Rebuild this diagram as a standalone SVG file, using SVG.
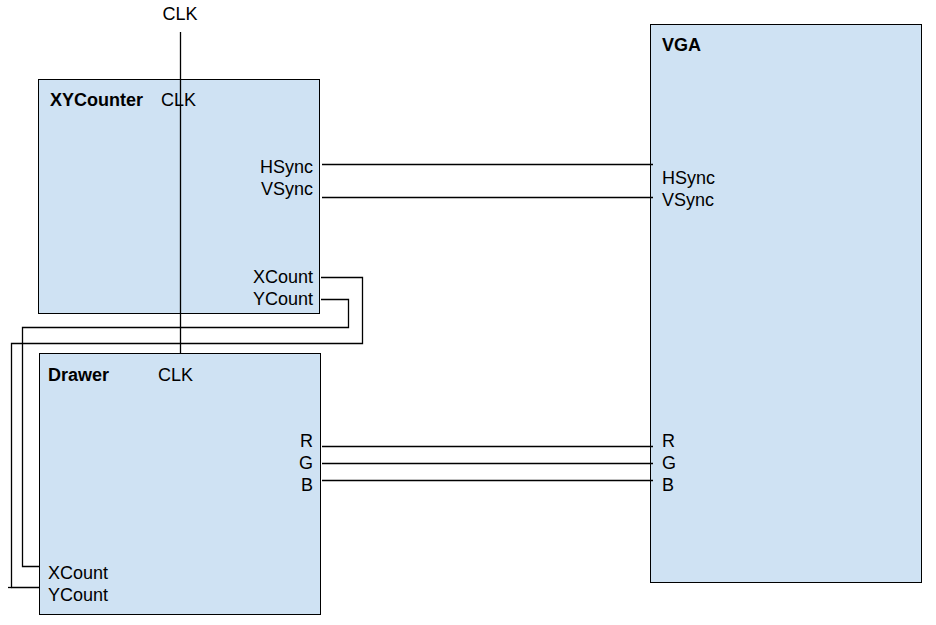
<svg xmlns="http://www.w3.org/2000/svg" width="936" height="625" viewBox="0 0 936 625">
<style>
.box{fill:#cfe2f3;stroke:#000;stroke-width:1}
text{font-family:"Liberation Sans",Arial,sans-serif;font-size:18px;fill:#000}
.b{font-weight:bold}
.r{text-anchor:end}
.w{fill:none;stroke:#000;stroke-width:1.3}
</style>
<rect width="936" height="625" fill="#fff"/>
<g id="XYCounter">
<rect class="box" x="38.5" y="79.5" width="281" height="234"/>
<text class="b" x="50" y="106">XYCounter</text>
<text x="161" y="106">CLK</text>
<text class="r" x="313" y="173">HSync</text>
<text class="r" x="313" y="195">VSync</text>
<text class="r" x="313" y="283">XCount</text>
<text class="r" x="313" y="305">YCount</text>
</g>
<g id="Drawer">
<rect class="box" x="39.5" y="353.5" width="281" height="261"/>
<text class="b" x="48" y="381">Drawer</text>
<text x="158" y="381">CLK</text>
<text class="r" x="313" y="447">R</text>
<text class="r" x="313" y="469">G</text>
<text class="r" x="313" y="491">B</text>
<text x="48" y="579">XCount</text>
<text x="48" y="601">YCount</text>
</g>
<g id="VGA">
<rect class="box" x="650.5" y="24.5" width="271" height="558"/>
<text class="b" x="662" y="51">VGA</text>
<text x="662" y="184">HSync</text>
<text x="662" y="206">VSync</text>
<text x="662" y="447">R</text>
<text x="662" y="469">G</text>
<text x="662" y="491">B</text>
</g>
<g id="CLK">
<text x="180" y="20" text-anchor="middle">CLK</text>
</g>
<g id="connectors">
<path class="w" d="M180.5 32V353"/>
<path class="w" d="M322 164.5H653"/>
<path class="w" d="M322 197.5H653"/>
<path class="w" d="M322 446.5H653"/>
<path class="w" d="M322 463.5H653"/>
<path class="w" d="M322 480.5H653"/>
<path class="w" d="M321 277.5H362.5V343.5H11.5V587.5H39"/>
<path class="w" d="M8 587.5H11.5"/>
<path class="w" d="M321 299.5H348.5V327.5H22.5V566.5H39"/>
</g>
</svg>
